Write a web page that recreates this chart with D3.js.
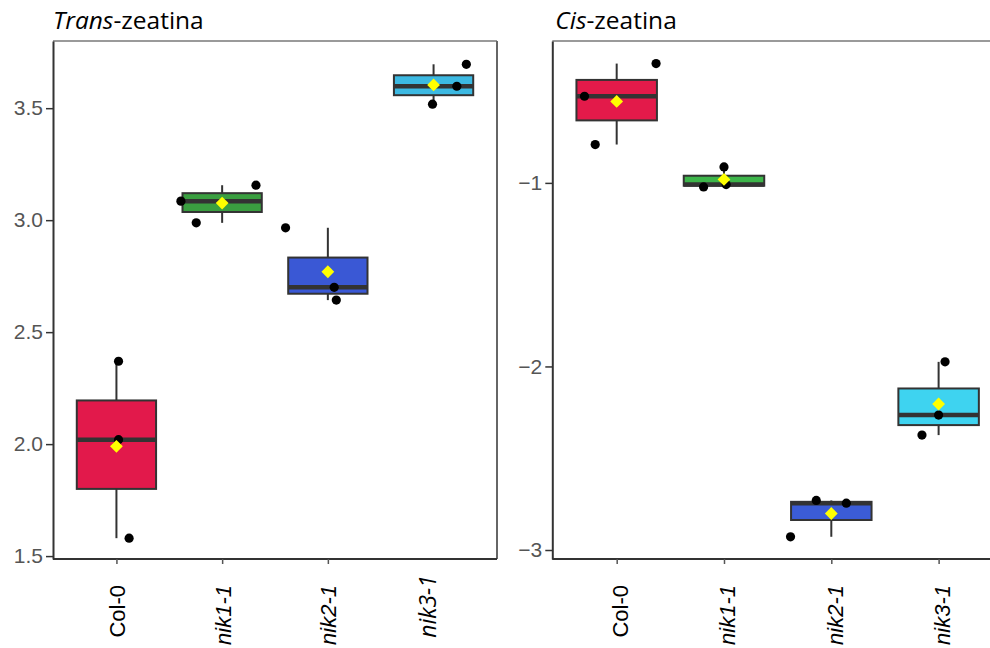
<!DOCTYPE html>
<html>
<head>
<meta charset="utf-8">
<script src="https://cdn.jsdelivr.net/npm/d3@7"></script>
<style>
  body { margin: 0; background: #fff; }
  svg { display: block; }
</style>
</head>
<body>
<svg></svg>
<script>
// groups on the x axis
let categories = ['Col-0', 'nik1-1', 'nik2-1', 'nik3-1']

// three replicates per group
let transValues = [
  [1.58, 2.02, 2.37],
  [2.988, 3.085, 3.156],
  [2.643, 2.70, 2.966],
  [3.518, 3.598, 3.696]
]
let cisValues = [
  [-0.791, -0.528, -0.35],
  [-1.022, -1.009, -0.913],
  [-2.928, -2.745, -2.73],
  [-2.374, -2.265, -1.975]
]

// horizontal jitter of each replicate, in category widths
let transJitter = [
  [0.12, 0.02, 0.02],
  [-0.245, -0.39, 0.32],
  [0.08, 0.06, -0.40],
  [-0.01, 0.22, 0.31]
]
let cisJitter = [
  [-0.20, -0.30, 0.367],
  [-0.19, 0.02, 0.0],
  [-0.38, 0.14, -0.14],
  [-0.155, 0.0, 0.06]
]

let transTicks = [1.5, 2.0, 2.5, 3.0, 3.5]
let cisTicks = [-1, -2, -3]

let transFill = ['#e2194b', '#3a9f40', '#3a58d5', '#3cb9e2']
let cisFill = ['#e31a4a', '#3db54a', '#3b5cd6', '#3ed3f0']

let width = 990
let height = 648
let plotTop = 41
let plotBottom = 559

let svg = d3.select('svg')
  .attr('width', width)
  .attr('height', height)

let boxStats = (values) => {
  let v = values.slice().sort(d3.ascending)
  let q1 = d3.quantile(v, 0.25)
  let med = d3.quantile(v, 0.5)
  let q3 = d3.quantile(v, 0.75)
  let iqr = q3 - q1
  let lo = d3.min(v.filter((d) => d >= q1 - 1.5 * iqr))
  let hi = d3.max(v.filter((d) => d <= q3 + 1.5 * iqr))
  return { q1: q1, med: med, q3: q3, lo: lo, hi: hi, mean: d3.mean(v) }
}

let drawPanel = (opts) => {
  let xScale = d3.scalePoint()
    .domain(categories)
    .range([opts.left, opts.right])
    .padding(0.6)

  let yScale = d3.scaleLinear()
    .domain(opts.domain)
    .range([plotBottom, plotTop])

  let g = svg.append('g')
  let step = xScale.step()
  let boxW = step * 0.75

  // panel border (top and right in grey)
  g.append('line')
    .attr('x1', opts.left).attr('x2', opts.right)
    .attr('y1', plotTop).attr('y2', plotTop)
    .attr('stroke', '#9a9a9a').attr('stroke-width', 2)
  if (opts.right < width) {
    g.append('line')
      .attr('x1', opts.right).attr('x2', opts.right)
      .attr('y1', plotTop).attr('y2', plotBottom)
      .attr('stroke', '#666').attr('stroke-width', 2)
  }

  let groups = categories.map((c, i) => {
    return { cat: c, values: opts.values[i], jitter: opts.jitter[i], fill: opts.fill[i], stats: boxStats(opts.values[i]) }
  })

  let box = g.selectAll('.box')
    .data(groups)
    .enter()
    .append('g')
    .attr('class', 'box')

  box.append('line')
    .attr('x1', (d) => xScale(d.cat))
    .attr('x2', (d) => xScale(d.cat))
    .attr('y1', (d) => yScale(d.stats.lo))
    .attr('y2', (d) => yScale(d.stats.hi))
    .attr('stroke', '#333')
    .attr('stroke-width', 2)

  box.append('rect')
    .attr('x', (d) => xScale(d.cat) - boxW / 2)
    .attr('width', boxW)
    .attr('y', (d) => yScale(d.stats.q3))
    .attr('height', (d) => yScale(d.stats.q1) - yScale(d.stats.q3))
    .attr('fill', (d) => d.fill)
    .attr('stroke', '#333')
    .attr('stroke-width', 2)

  box.append('line')
    .attr('x1', (d) => xScale(d.cat) - boxW / 2)
    .attr('x2', (d) => xScale(d.cat) + boxW / 2)
    .attr('y1', (d) => yScale(d.stats.med))
    .attr('y2', (d) => yScale(d.stats.med))
    .attr('stroke', '#333')
    .attr('stroke-width', 4.5)

  // replicates
  box.selectAll('circle')
    .data((d) => d.values.map((v, j) => { return { cat: d.cat, v: v, jit: d.jitter[j] } }))
    .enter()
    .append('circle')
    .attr('cx', (d) => xScale(d.cat) + d.jit * step)
    .attr('cy', (d) => yScale(d.v))
    .attr('r', 4.6)
    .attr('fill', '#000')

  // mean
  box.append('path')
    .attr('d', d3.symbol(d3.symbolSquare, 82))
    .attr('transform', (d) => 'translate(' + xScale(d.cat) + ',' + yScale(d.stats.mean) + ') rotate(45)')
    .attr('fill', '#ffff00')

  // axes
  let yAxis = d3.axisLeft(yScale)
    .tickValues(opts.ticks)
    .tickFormat(opts.format)
    .tickSize(7)
    .tickPadding(3)
    .tickSizeOuter(0)

  let ya = g.append('g')
    .attr('transform', 'translate(' + opts.left + ', 0)')
    .call(yAxis)
  ya.select('.domain').attr('stroke', '#333').attr('stroke-width', 2)
  ya.selectAll('.tick line').attr('stroke', '#333').attr('stroke-width', 1.5)
  ya.selectAll('.tick text')
    .attr('fill', '#555')
    .style('font-family', '"Liberation Sans", Arial, sans-serif')
    .style('font-size', '21px')

  let xAxis = d3.axisBottom(xScale)
    .tickSize(5)
    .tickSizeOuter(0)

  let xa = g.append('g')
    .attr('transform', 'translate(0, ' + plotBottom + ')')
    .call(xAxis)
  xa.select('.domain')
    .attr('d', 'M' + opts.left + ',0H' + Math.min(opts.right, width))
    .attr('stroke', '#333').attr('stroke-width', 2)
  xa.selectAll('.tick line').attr('stroke', '#555').attr('stroke-width', 1.5)

  xa.selectAll('.tick text')
    .attr('transform', 'rotate(-90)')
    .attr('x', -26)
    .attr('y', 0)
    .attr('dy', opts.labelDy)
    .attr('text-anchor', 'end')
    .attr('fill', '#000')
    .style('font-family', '"Liberation Sans", Arial, sans-serif')
    .style('font-size', '22px')
    .style('font-style', (d) => d === 'Col-0' ? 'normal' : 'italic')

  if (opts.patch) {
    // white patch pasted over the last label in the original
    xa.append('rect')
      .attr('x', opts.patch[0]).attr('y', 1.2)
      .attr('width', opts.patch[1] - opts.patch[0]).attr('height', 60)
      .attr('fill', '#fff')
    let last = xa.selectAll('.tick').filter((d) => d === 'nik3-1')
    last.raise()
    last.select('line').remove()
    last.select('text')
      .attr('x', -16)
      .attr('dy', '0.1em')
      .style('font-family', '"Open Sans", sans-serif')
      .style('font-size', '23px')
  }

  // title
  let title = svg.append('text')
    .attr('x', opts.left + opts.titleShift)
    .attr('y', 29)
    .style('font-family', '"Open Sans", sans-serif')
    .style('font-size', '24.5px')
    .attr('fill', '#000')
  title.append('tspan').style('font-style', 'italic').text(opts.title[0])
  title.append('tspan').text(opts.title[1])
}

drawPanel({
  left: 53, right: 497,
  domain: [1.487, 3.80],
  values: transValues, jitter: transJitter, fill: transFill,
  ticks: transTicks, format: d3.format('.1f'),
  labelDy: '0.36em',
  patch: [390, 458],
  title: ['Trans', '-zeatina'], titleShift: 0
})

drawPanel({
  left: 552.3, right: 1003,
  domain: [-3.049, -0.227],
  values: cisValues, jitter: cisJitter, fill: cisFill,
  ticks: cisTicks, format: d3.format('d'),
  labelDy: '0.5em',
  patch: null,
  title: ['Cis', '-zeatina'], titleShift: 3
})
</script>
</body>
</html>
